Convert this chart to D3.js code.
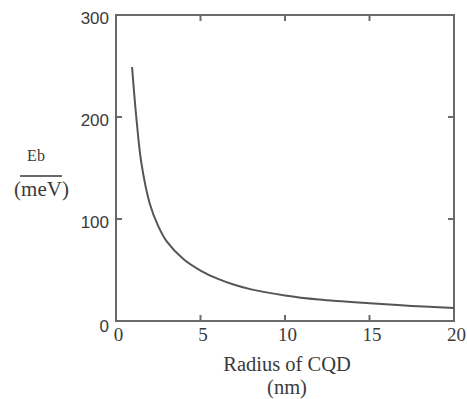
<!DOCTYPE html>
<html>
<head>
<meta charset="utf-8">
<script src="https://cdn.jsdelivr.net/npm/d3@7"></script>
<style>
  body { margin: 0; background: #fff; }
  svg { display: block; }
</style>
</head>
<body>
<svg id="chart" width="467" height="399"></svg>
<script>
// radius of CQD (nm) and binding energy (meV)
const radius = [0.95, 1.2, 1.5, 2, 2.5, 3, 4, 5, 6, 7, 8, 10, 12, 15, 17.5, 20];
const energy = [249, 200, 155, 115, 93, 78, 60.5, 49.5, 41.5, 35.5, 31, 25, 21, 17.3, 14.8, 12.7];
const xTicks = [0, 5, 10, 15, 20];
const yTicks = [0, 100, 200, 300];

const svg = d3.select("#chart");
const plotL = 116, plotR = 454, plotT = 15, plotB = 321;

const x = d3.scaleLinear().domain([0, 20]).range([plotL, plotR]);
const y = d3.scaleLinear().domain([0, 300]).range([plotB, plotT]);

const axisColor = "#6a6a6a";
const textColor = "#3a3a3a";
const serif = "'Liberation Serif', 'Times New Roman', serif";

// frame
svg.append("rect")
  .attr("x", plotL).attr("y", plotT)
  .attr("width", plotR - plotL).attr("height", plotB - plotT)
  .attr("fill", "none").attr("stroke", axisColor).attr("stroke-width", 2);

// inward ticks on all four sides
const tickLen = 6;
xTicks.forEach(t => {
  svg.append("line").attr("x1", x(t)).attr("x2", x(t))
    .attr("y1", plotB).attr("y2", plotB - tickLen)
    .attr("stroke", axisColor).attr("stroke-width", 2);
  svg.append("line").attr("x1", x(t)).attr("x2", x(t))
    .attr("y1", plotT).attr("y2", plotT + tickLen)
    .attr("stroke", axisColor).attr("stroke-width", 2);
});
yTicks.forEach(t => {
  svg.append("line").attr("x1", plotL).attr("x2", plotL + tickLen)
    .attr("y1", y(t)).attr("y2", y(t))
    .attr("stroke", axisColor).attr("stroke-width", 2);
  svg.append("line").attr("x1", plotR).attr("x2", plotR - tickLen)
    .attr("y1", y(t)).attr("y2", y(t))
    .attr("stroke", axisColor).attr("stroke-width", 2);
});

// tick labels
svg.selectAll(".ylab").data(yTicks).enter().append("text")
  .attr("x", plotL - 7).attr("y", d => y(d) + 9 + (d === 0 ? 2 : 0))
  .attr("text-anchor", "end")
  .style("font-family", "'Liberation Sans', Arial, sans-serif")
  .style("font-size", "17px").attr("fill", textColor)
  .text(d => d);

svg.selectAll(".xlab").data(xTicks).enter().append("text")
  .attr("x", d => x(d) + 2.5).attr("y", plotB + 20)
  .attr("text-anchor", "middle")
  .style("font-family", serif)
  .style("font-size", "19px").attr("fill", textColor)
  .text(d => d);

// curve
const line = d3.line()
  .x((d, i) => x(radius[i]))
  .y(d => y(d))
  .curve(d3.curveCatmullRom.alpha(0.5));
svg.append("path")
  .attr("d", line(energy))
  .attr("fill", "none").attr("stroke", "#555").attr("stroke-width", 2);

// axis titles
svg.append("text").attr("x", 287).attr("y", 371).attr("text-anchor", "middle")
  .style("font-family", serif).style("font-size", "20.5px").attr("fill", textColor)
  .text("Radius of CQD");
svg.append("text").attr("x", 287).attr("y", 394).attr("text-anchor", "middle")
  .style("font-family", serif).style("font-size", "20.5px").attr("fill", textColor)
  .text("(nm)");

svg.append("text").attr("x", 36).attr("y", 161).attr("text-anchor", "middle")
  .style("font-family", serif).style("font-size", "16px").attr("fill", textColor)
  .text("Eb");
svg.append("line").attr("x1", 20).attr("x2", 62).attr("y1", 176).attr("y2", 176)
  .attr("stroke", textColor).attr("stroke-width", 1.5);
svg.append("text").attr("x", 41.5).attr("y", 196).attr("text-anchor", "middle")
  .style("font-family", serif).style("font-size", "21px").attr("fill", textColor)
  .text("(meV)");
</script>
</body>
</html>
